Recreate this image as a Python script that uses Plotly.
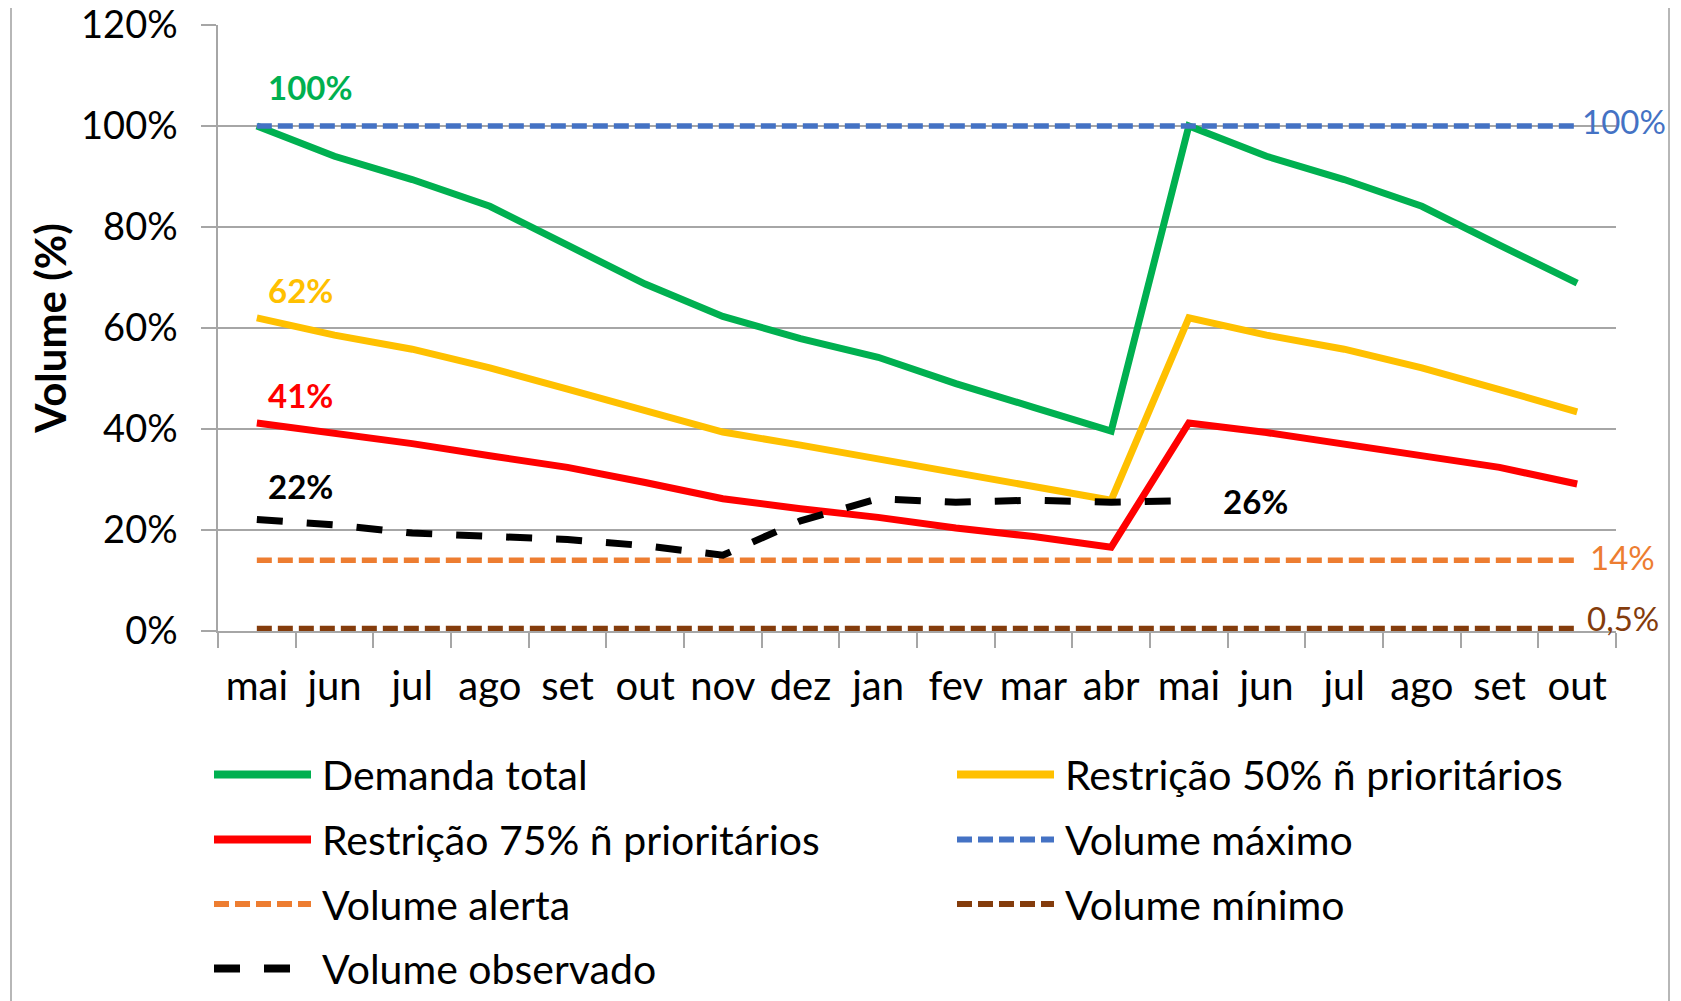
import plotly.graph_objects as go

months = ['mai', 'jun', 'jul', 'ago', 'set', 'out', 'nov', 'dez', 'jan', 'fev', 'mar', 'abr',
          'mai', 'jun', 'jul', 'ago', 'set', 'out']
# unique keys so both years get their own category slot
keys = [f"{m}_{i}" for i, m in enumerate(months)]
y_ticks = [0, 20, 40, 60, 80, 100, 120]

demanda_total = [100, 94.0, 89.4, 84.1, 76.4, 68.7, 62.3, 57.9, 54.2, 49.0, 44.3, 39.6,
                 100, 94.0, 89.4, 84.1, 76.4, 68.9]
restricao_50 = [62.0, 58.6, 55.8, 52.1, 47.9, 43.6, 39.4, 36.8, 34.1, 31.5, 28.6, 25.9,
                62.0, 58.6, 55.8, 52.1, 47.8, 43.4]
restricao_75 = [41.2, 39.3, 37.1, 34.7, 32.4, 29.4, 26.2, 24.2, 22.5, 20.4, 18.7, 16.6,
                41.2, 39.3, 37.1, 34.7, 32.4, 29.1]
volume_maximo = [100] * 18
volume_alerta = [14] * 18
volume_minimo = [0.5] * 18
volume_observado = [22.1, 21.0, 19.4, 18.7, 18.1, 16.9, 15.0, 21.8, 26.2, 25.5, 25.9, 25.5,
                    25.8, None, None, None, None, None]

FONT = 'Lato'
GRID = '#a6a6a6'
W, H = 1681, 1001
OFF = 8  # page body margin shifts the figure by 8px

# plot area as it should land on screen
L, R, T, B = 218, 1616, 25, 631


def px2x(px):
    return (px - L) / (R - L)


def px2y(py):
    return (B - py) / (B - T)


SHORT = '15px,6px'
series = [
    ('Demanda total', demanda_total, '#00b050', 7, 'solid'),
    ('Restrição 50% ñ prioritários', restricao_50, '#ffc000', 7, 'solid'),
    ('Restrição 75% ñ prioritários', restricao_75, '#ff0000', 7, 'solid'),
    ('Volume máximo', volume_maximo, '#4472c4', 5.5, SHORT),
    ('Volume alerta', volume_alerta, '#ed7d31', 5.5, SHORT),
    ('Volume mínimo', volume_minimo, '#843c0c', 5.5, SHORT),
    ('Volume observado', volume_observado, '#000000', 7, '26px,24px'),
]

fig = go.Figure()
for name, vals, color, width, dash in series:
    fig.add_trace(go.Scatter(
        x=keys, y=vals, name=name, mode='lines',
        line=dict(color=color, width=width, dash=dash),
        connectgaps=False, showlegend=False,
    ))

# legend drawn by hand: two columns, long line samples like the Excel original
rows = [774.5, 839.5, 904, 968.5]
cols = [(214, 311, 320), (957, 1054, 1063)]
for k, (name, vals, color, width, dash) in enumerate(series):
    x0, x1, xt = cols[k % 2]
    yy = px2y(rows[k // 2])
    fig.add_shape(type='line', xref='paper', yref='paper', x0=px2x(x0), x1=px2x(x1),
                  y0=yy, y1=yy, line=dict(color=color, width=8 if dash != SHORT else 6,
                                          dash=dash))
    fig.add_annotation(xref='paper', yref='paper', x=px2x(xt), y=yy, text=name,
                       showarrow=False, xanchor='left', yanchor='middle',
                       font=dict(family=FONT, size=41, color='#000000'))


def fmt(v):
    if v < 1:
        return f"{v:.1f}%".replace('.', ',')
    return f"{round(v)}%"


# (values, index, colour, bold, xshift, yshift)
labels = [
    (demanda_total, 0, '#00b050', True, 9, 39),
    (restricao_50, 0, '#ffc000', True, 9, 28),
    (restricao_75, 0, '#ff0000', True, 9, 28),
    (volume_observado, 0, '#000000', True, 9, 33),
    (volume_observado, 12, '#000000', True, 32, 0),
    (volume_maximo, 17, '#4472c4', False, 3, 5),
    (volume_alerta, 17, '#ed7d31', False, 11, 3),
    (volume_minimo, 17, '#843c0c', False, 8, 10),
]
for vals, i, color, bold, xs, ys in labels:
    txt = fmt(vals[i])
    fig.add_annotation(
        x=keys[i], y=vals[i], text=f"<b>{txt}</b>" if bold else txt,
        showarrow=False, xanchor='left', yanchor='middle', xshift=xs, yshift=ys,
        font=dict(family=FONT, size=33, color=color),
    )

# chart-area border (only the sides are visible in the frame)
fig.add_shape(type='rect', xref='paper', yref='paper', x0=px2x(11), x1=px2x(1669),
              y0=px2y(1020), y1=px2y(-20), line=dict(color='#a0a0a0', width=1.5),
              layer='below')

fig.update_xaxes(
    type='category', categoryorder='array', categoryarray=keys, range=[-0.5, 17.5],
    tickmode='array', tickvals=keys, ticktext=months, tickson='boundaries',
    ticks='outside', ticklen=15, tickcolor=GRID, tickwidth=1.5, ticklabelstandoff=19,
    showline=True, linecolor=GRID, linewidth=1.5, showgrid=False, automargin=False,
    tickfont=dict(family=FONT, size=40, color='#000000'),
)
fig.update_yaxes(
    range=[0, 120], tickmode='array', tickvals=y_ticks,
    ticktext=[f"{v}%" for v in y_ticks], ticklabeloverflow='allow',
    ticks='outside', ticklen=15, tickcolor=GRID, tickwidth=1.5, ticklabelstandoff=16,
    showline=True, linecolor=GRID, linewidth=1.5, automargin=False,
    showgrid=True, gridcolor=GRID, gridwidth=1.5, zeroline=False,
    tickfont=dict(family=FONT, size=38, color='#000000'),
    title=dict(text='<b>Volume (%)</b>', font=dict(family=FONT, size=42, color='#000000'),
               standoff=1),
)

fig.update_layout(
    width=W, height=H,
    margin=dict(l=L - OFF, r=W - R + OFF, t=T - OFF, b=H - B + OFF),
    plot_bgcolor='white', paper_bgcolor='white',
    font=dict(family=FONT),
    showlegend=False,
)

fig.write_html("out.html")
